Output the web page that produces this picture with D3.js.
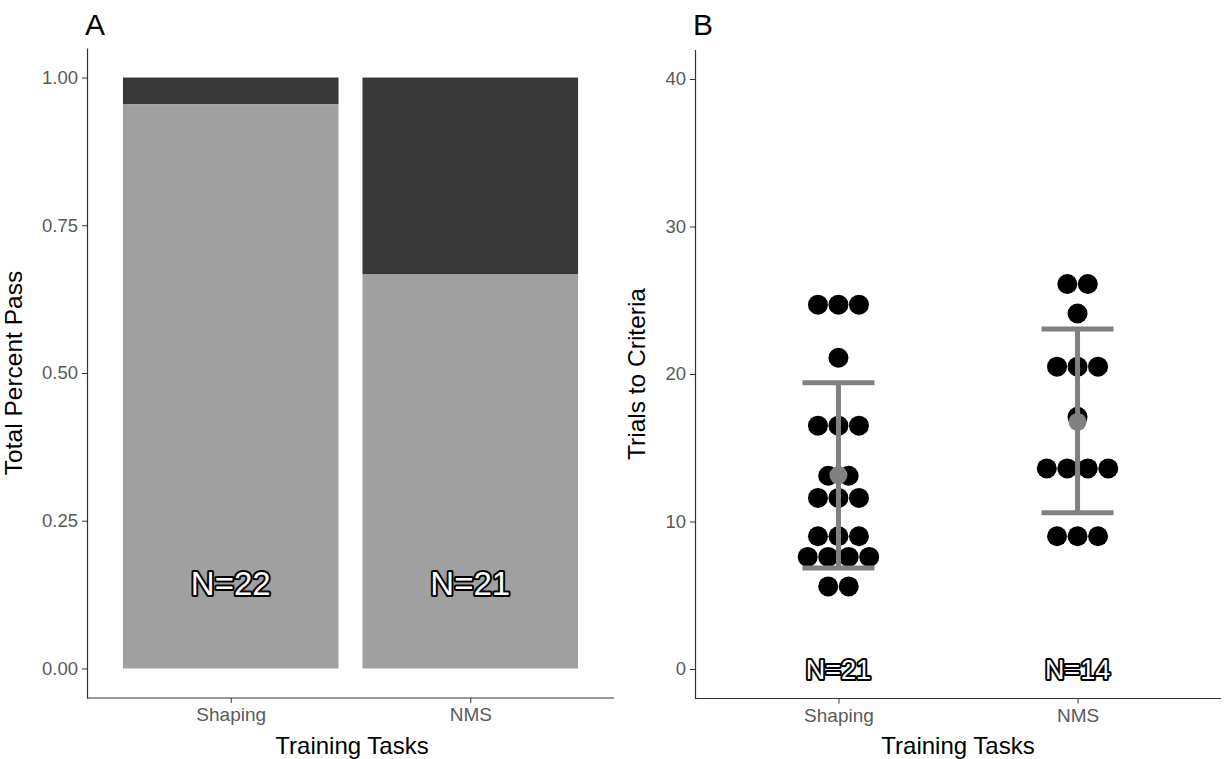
<!DOCTYPE html>
<html>
<head>
<meta charset="utf-8">
<script src="https://cdn.jsdelivr.net/npm/d3@7"></script>
<style>
  body { margin: 0; background: #fff; }
  svg text { font-family: "Liberation Sans", Arial, sans-serif; }
</style>
</head>
<body>
<svg id="chart" width="1225" height="759"></svg>
<script>
// ---- data ----
const tasks = ["Shaping", "NMS"];
const passFraction = [21 / 22, 14 / 21];   // light part of each bar
const totalN = [22, 21];
const passN = [21, 14];

const shapingTrials = [24.7, 24.7, 24.7, 21.1, 16.5, 16.5, 16.5, 13.1, 13.1,
  11.6, 11.6, 11.6, 9.0, 9.0, 9.0, 7.6, 7.6, 7.6, 7.6, 5.6, 5.6];
const nmsTrials = [26.1, 26.1, 24.1, 20.5, 20.5, 20.5, 17.1,
  13.6, 13.6, 13.6, 13.6, 9.0, 9.0, 9.0];
const trialMeans = [13.15, 16.75];
const trialLower = [6.85, 10.6];
const trialUpper = [19.4, 23.05];

const yTicksA = [0, 0.25, 0.5, 0.75, 1];
const yTicksB = [0, 10, 20, 30, 40];

const svg = d3.select("#chart");
const axisColor = "#333";
const tickText = "#5a5a5a";

function drawAxes(g, x, y, ticks, fmt, yTitle, xTitleX, yTitleX, tag) {
  const [x0, x1] = x.range();
  const [yb, yt] = y.range();
  const ax = g.append("g").attr("transform", `translate(${x0},0)`)
    .call(d3.axisLeft(y).tickValues(ticks).tickFormat(fmt)
      .tickSizeInner(5).tickSizeOuter(0).tickPadding(4));
  ax.select(".domain").attr("stroke", axisColor).attr("stroke-width", 1.2);
  ax.selectAll(".tick line").attr("stroke", axisColor);
  ax.selectAll(".tick text").attr("fill", tickText).attr("font-size", 18.5);

  const bx = g.append("g").attr("transform", `translate(0,${yb})`)
    .call(d3.axisBottom(x).tickSizeInner(5).tickSizeOuter(0).tickPadding(5));
  bx.select(".domain").attr("stroke", axisColor).attr("stroke-width", 1.2)
    .attr("d", `M${x0},0H${x1}`);
  bx.selectAll(".tick line").attr("stroke", axisColor);
  bx.selectAll(".tick text").attr("fill", tickText).attr("font-size", 19);

  g.append("text").attr("x", xTitleX).attr("y", 754)
    .attr("text-anchor", "middle").attr("font-size", 24).attr("fill", "#000")
    .text("Training Tasks");
  g.append("text")
    .attr("transform", `translate(${yTitleX},${(yb + yt) / 2}) rotate(-90)`)
    .attr("text-anchor", "middle").attr("font-size", 24.5).attr("fill", "#000")
    .text(yTitle);
  g.append("text").attr("x", x0 - 2).attr("y", 35)
    .attr("font-size", 30).attr("fill", "#000").text(tag);
}

function outlined(g, x, y, txt, size) {
  g.append("text").attr("x", x).attr("y", y).attr("dy", "0.36em")
    .attr("text-anchor", "middle").attr("font-size", size)
    .attr("fill", "#fff").attr("stroke", "#000").attr("stroke-width", 4)
    .attr("stroke-linejoin", "round").attr("paint-order", "stroke")
    .text(txt);
}

// ---- Panel A ----
const gA = svg.append("g");
const xA = d3.scalePoint().domain(tasks).range([87, 614]).padding(0.6);
const yA = d3.scaleLinear().domain([-0.05, 1.05]).range([698, 48]);
const bwA = xA.step() * 0.9;

gA.selectAll("rect.fail").data(tasks).join("rect")
  .attr("x", d => xA(d) - bwA / 2).attr("width", bwA)
  .attr("y", yA(1)).attr("height", (d, i) => yA(passFraction[i]) - yA(1))
  .attr("fill", "#383838");
gA.selectAll("rect.pass").data(tasks).join("rect")
  .attr("x", d => xA(d) - bwA / 2).attr("width", bwA)
  .attr("y", (d, i) => yA(passFraction[i]))
  .attr("height", (d, i) => yA(0) - yA(passFraction[i]))
  .attr("fill", "#a0a0a0");
tasks.forEach((t, i) => outlined(gA, xA(t), yA(0.145), `N=${totalN[i]}`, 33));

drawAxes(gA, xA, yA, yTicksA, d3.format(".2f"), "Total Percent Pass", 352, 22, "A");

// ---- Panel B ----
const gB = svg.append("g");
const xB = d3.scalePoint().domain(tasks).range([695, 1221]).padding(0.6);
const yB = d3.scaleLinear().domain([-2, 42]).range([698.5, 49.5]);
const dotR = 10, dotStep = 20.5;

[shapingTrials, nmsTrials].forEach((vals, i) => {
  const rows = d3.rollups(vals, v => v.length, v => v);
  const dots = [];
  rows.forEach(([v, n]) => {
    for (let k = 0; k < n; k++) dots.push({ v, off: (k - (n - 1) / 2) * dotStep });
  });
  gB.append("g").selectAll("circle").data(dots).join("circle")
    .attr("cx", d => xB(tasks[i]) + d.off).attr("cy", d => yB(d.v))
    .attr("r", dotR).attr("fill", "#000");
});

const errColor = "#808080";
tasks.forEach((t, i) => {
  const cx = xB(t);
  gB.append("line").attr("x1", cx).attr("x2", cx)
    .attr("y1", yB(trialLower[i])).attr("y2", yB(trialUpper[i]))
    .attr("stroke", errColor).attr("stroke-width", 5);
  [trialLower[i], trialUpper[i]].forEach(v => {
    gB.append("line").attr("x1", cx - 36).attr("x2", cx + 36)
      .attr("y1", yB(v)).attr("y2", yB(v))
      .attr("stroke", errColor).attr("stroke-width", 5);
  });
  gB.append("circle").attr("cx", cx).attr("cy", yB(trialMeans[i]))
    .attr("r", 9).attr("fill", errColor);
  outlined(gB, cx, yB(0), `N=${passN[i]}`, 27);
});

drawAxes(gB, xB, yB, yTicksB, d3.format("d"), "Trials to Criteria", 958, 645, "B");
</script>
</body>
</html>
